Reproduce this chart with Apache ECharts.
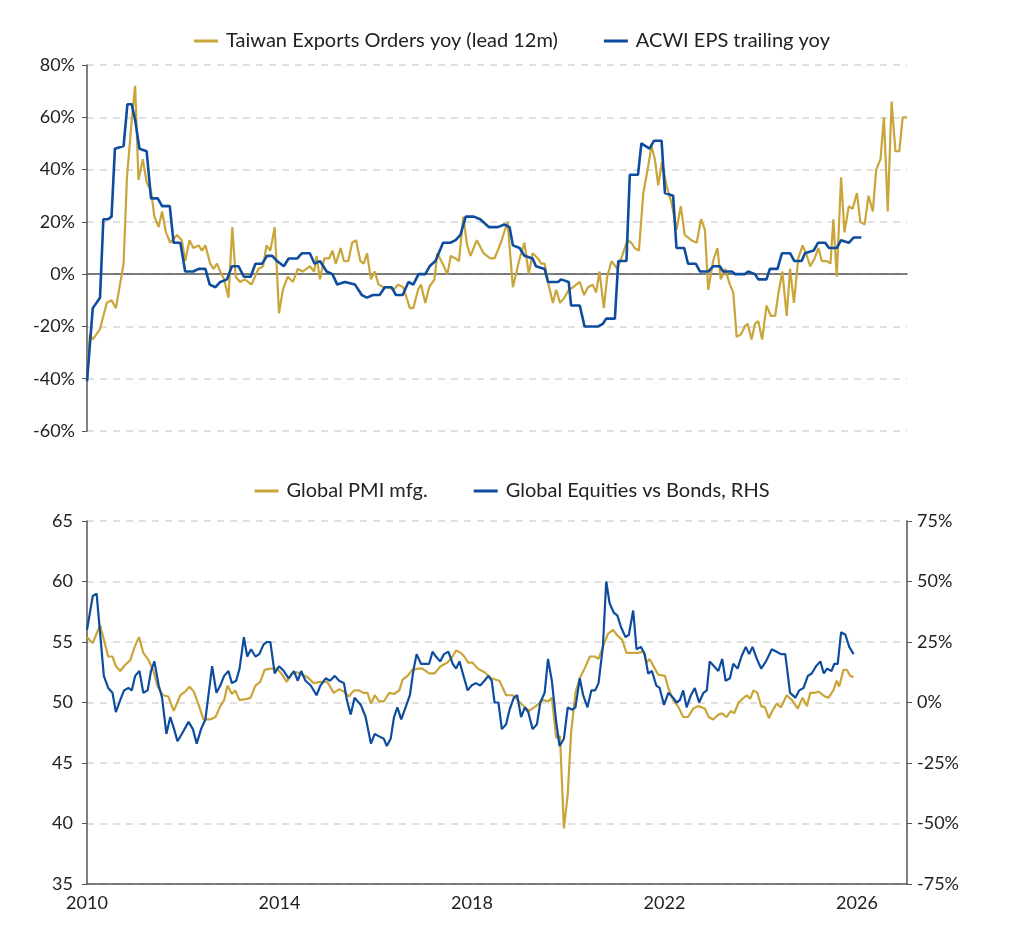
<!DOCTYPE html>
<html><head><meta charset="utf-8">
<script src="https://cdn.jsdelivr.net/npm/echarts@6/dist/echarts.min.js"></script>
<style>html,body{margin:0;padding:0;background:#fff}#c{width:1024px;height:941px}</style>
</head><body><div id="c"></div>
<script>
const taiwanOrders = [[2010.0,-41],[2010.06,-23],[2010.12,-25],[2010.27,-21],[2010.41,-11],[2010.51,-10],[2010.6,-13],[2010.76,4],[2010.83,37],[2010.93,59],[2011.0,72],[2011.07,36],[2011.16,44],[2011.24,35],[2011.33,32],[2011.4,22],[2011.49,18],[2011.56,24],[2011.64,16],[2011.73,12],[2011.87,15],[2011.97,13],[2012.04,5],[2012.13,13],[2012.21,10],[2012.32,11],[2012.39,9],[2012.46,11],[2012.56,4],[2012.63,2],[2012.7,4],[2012.77,1],[2012.85,-2],[2012.94,-9],[2013.02,18],[2013.09,-1],[2013.18,-3],[2013.28,-2],[2013.42,-4],[2013.56,2],[2013.66,3],[2013.73,11],[2013.81,9],[2013.9,18],[2013.99,-15],[2014.07,-6],[2014.17,-1],[2014.28,-3],[2014.38,2],[2014.48,1],[2014.63,3],[2014.72,1],[2014.77,7],[2014.84,-2],[2014.93,6],[2015.03,6],[2015.1,9],[2015.17,4],[2015.27,10],[2015.34,5],[2015.43,5],[2015.51,12],[2015.59,13],[2015.68,5],[2015.75,4],[2015.82,8],[2015.9,-2],[2015.98,1],[2016.06,-4],[2016.16,-5],[2016.27,-5],[2016.37,-6],[2016.47,-4],[2016.57,-5],[2016.71,-13],[2016.78,-13],[2016.88,-6],[2016.94,-4],[2017.03,-11],[2017.11,-5],[2017.22,-2],[2017.28,8],[2017.39,4],[2017.49,0],[2017.56,7],[2017.66,6],[2017.73,5],[2017.82,22],[2017.9,11],[2017.97,7],[2018.1,13],[2018.24,8],[2018.38,6],[2018.47,6],[2018.6,12],[2018.74,20],[2018.85,-5],[2018.99,6],[2019.09,12],[2019.18,0],[2019.26,8],[2019.37,6],[2019.44,4],[2019.51,4],[2019.58,-3],[2019.68,-11],[2019.75,-6],[2019.83,-11],[2019.92,-9],[2020.01,-6],[2020.1,-5],[2020.24,-3],[2020.33,-8],[2020.41,-5],[2020.51,-4],[2020.58,-7],[2020.65,1],[2020.74,-13],[2020.81,-1],[2020.9,5],[2021.02,2],[2021.12,7],[2021.23,13],[2021.31,12],[2021.38,10],[2021.47,9],[2021.56,31],[2021.65,40],[2021.73,49],[2021.8,44],[2021.87,34],[2021.95,43],[2022.04,34],[2022.15,27],[2022.25,17],[2022.34,26],[2022.42,15],[2022.56,13],[2022.67,12],[2022.76,21],[2022.84,17],[2022.91,-6],[2023.01,5],[2023.1,10],[2023.17,-2],[2023.26,2],[2023.36,-4],[2023.43,-7],[2023.5,-24],[2023.59,-23],[2023.67,-20],[2023.73,-19],[2023.81,-25],[2023.88,-19],[2023.95,-18],[2024.03,-25],[2024.12,-12],[2024.21,-16],[2024.3,-16],[2024.37,-7],[2024.45,1],[2024.54,-16],[2024.61,2],[2024.69,-11],[2024.78,6],[2024.87,11],[2024.96,7],[2025.03,3],[2025.12,6],[2025.2,10],[2025.27,5],[2025.38,5],[2025.45,4],[2025.51,21],[2025.58,-1],[2025.67,37],[2025.74,16],[2025.83,26],[2025.91,25],[2026.0,31],[2026.07,20],[2026.16,19],[2026.24,30],[2026.33,24],[2026.4,40],[2026.49,44],[2026.56,60],[2026.64,24],[2026.72,66],[2026.8,47],[2026.88,47],[2026.95,60],[2027.04,60]];
const acwiEps = [[2010.0,-41],[2010.12,-13],[2010.27,-9],[2010.34,21],[2010.44,21],[2010.51,22],[2010.58,48],[2010.76,49],[2010.84,65],[2010.93,65],[2011.0,59],[2011.09,48],[2011.24,47],[2011.33,29],[2011.47,29],[2011.56,26],[2011.72,26],[2011.8,12],[2011.94,12],[2012.04,1],[2012.21,1],[2012.32,2],[2012.46,2],[2012.55,-4],[2012.67,-5],[2012.77,-3],[2012.91,-2],[2013.01,3],[2013.15,3],[2013.26,-1],[2013.4,-1],[2013.5,4],[2013.64,4],[2013.74,7],[2013.85,7],[2013.95,5],[2014.09,3],[2014.19,6],[2014.37,6],[2014.47,8],[2014.63,8],[2014.73,4],[2014.84,5],[2014.98,1],[2015.1,0],[2015.2,-4],[2015.36,-3],[2015.57,-4],[2015.71,-8],[2015.82,-9],[2015.94,-8],[2016.08,-8],[2016.19,-5],[2016.33,-5],[2016.42,-8],[2016.56,-8],[2016.68,-3],[2016.78,-4],[2016.89,0],[2017.03,0],[2017.12,3],[2017.24,5],[2017.4,12],[2017.55,12],[2017.66,13],[2017.76,15],[2017.87,22],[2018.04,22],[2018.17,21],[2018.35,18],[2018.54,18],[2018.67,19],[2018.78,18],[2018.85,11],[2018.99,10],[2019.09,7],[2019.26,6],[2019.33,3],[2019.51,2],[2019.58,-3],[2019.79,-3],[2019.85,-2],[2020.01,-3],[2020.06,-12],[2020.24,-12],[2020.34,-20],[2020.62,-20],[2020.72,-19],[2020.79,-17],[2020.97,-17],[2021.04,5],[2021.21,5],[2021.28,38],[2021.45,38],[2021.52,50],[2021.69,48],[2021.78,51],[2021.94,51],[2022.01,31],[2022.18,30],[2022.25,10],[2022.41,10],[2022.49,4],[2022.65,4],[2022.74,1],[2022.91,1],[2023.01,3],[2023.15,3],[2023.22,1],[2023.4,1],[2023.47,0],[2023.67,0],[2023.74,1],[2023.88,0],[2023.95,-2],[2024.12,-2],[2024.19,2],[2024.35,2],[2024.44,8],[2024.61,8],[2024.7,5],[2024.85,5],[2024.92,8],[2025.1,9],[2025.19,12],[2025.34,12],[2025.42,10],[2025.58,10],[2025.67,13],[2025.83,12],[2025.93,14],[2026.09,14]];
const globalPmi = [[2010.0,55.4],[2010.12,54.9],[2010.27,56.4],[2010.35,55.2],[2010.44,53.8],[2010.53,53.8],[2010.6,53.0],[2010.69,52.6],[2010.79,53.1],[2010.9,53.5],[2010.99,54.6],[2011.08,55.4],[2011.17,54.1],[2011.28,53.5],[2011.38,52.6],[2011.47,51.3],[2011.58,50.6],[2011.69,50.5],[2011.8,49.3],[2011.94,50.6],[2012.04,50.9],[2012.13,51.3],[2012.22,50.9],[2012.32,49.8],[2012.42,48.6],[2012.56,48.6],[2012.67,48.8],[2012.77,49.7],[2012.85,50.2],[2012.92,51.4],[2013.01,50.7],[2013.08,51.0],[2013.17,50.2],[2013.33,50.3],[2013.4,50.4],[2013.5,51.4],[2013.6,51.7],[2013.69,52.7],[2013.81,52.8],[2013.95,52.8],[2014.06,52.3],[2014.15,51.7],[2014.26,52.4],[2014.37,52.5],[2014.47,52.3],[2014.58,52.1],[2014.71,51.6],[2014.85,51.7],[2014.99,51.7],[2015.13,50.8],[2015.24,51.1],[2015.34,50.9],[2015.44,50.5],[2015.55,51.0],[2015.65,51.0],[2015.74,50.8],[2015.83,50.8],[2015.9,49.9],[2015.98,50.6],[2016.07,50.1],[2016.17,50.1],[2016.28,50.8],[2016.38,50.7],[2016.49,51.0],[2016.56,51.9],[2016.66,52.2],[2016.76,52.7],[2016.87,52.8],[2016.97,52.8],[2017.11,52.4],[2017.22,52.4],[2017.35,53.0],[2017.49,53.3],[2017.58,53.7],[2017.67,54.3],[2017.77,54.1],[2017.84,53.8],[2017.92,53.3],[2018.01,53.3],[2018.12,52.8],[2018.26,52.5],[2018.4,52.0],[2018.57,51.8],[2018.71,50.6],[2018.85,50.6],[2019.02,49.9],[2019.19,49.3],[2019.33,49.7],[2019.47,50.2],[2019.59,50.1],[2019.66,50.4],[2019.75,47.1],[2019.83,47.2],[2019.91,39.6],[2019.99,42.4],[2020.06,47.5],[2020.15,50.8],[2020.24,52.0],[2020.34,52.8],[2020.45,53.8],[2020.55,53.8],[2020.63,53.6],[2020.72,54.6],[2020.83,55.7],[2020.93,56.0],[2021.03,55.5],[2021.12,55.2],[2021.21,54.1],[2021.31,54.1],[2021.45,54.1],[2021.56,54.2],[2021.63,53.3],[2021.69,53.6],[2021.8,52.8],[2021.87,52.3],[2022.01,52.2],[2022.08,51.2],[2022.18,50.2],[2022.28,49.7],[2022.39,48.8],[2022.49,48.8],[2022.6,49.5],[2022.7,49.7],[2022.84,49.5],[2022.92,48.8],[2023.01,48.6],[2023.12,49.0],[2023.2,49.1],[2023.29,48.8],[2023.38,49.3],[2023.45,49.1],[2023.54,50.0],[2023.62,50.3],[2023.71,50.6],[2023.78,50.3],[2023.85,51.0],[2023.93,50.8],[2024.01,49.7],[2024.09,49.6],[2024.17,48.7],[2024.24,49.3],[2024.33,49.9],[2024.42,49.6],[2024.54,50.6],[2024.65,50.2],[2024.77,49.5],[2024.87,50.4],[2024.96,49.7],[2025.03,50.8],[2025.12,50.8],[2025.2,50.9],[2025.33,50.5],[2025.41,50.4],[2025.51,51.0],[2025.58,51.8],[2025.63,51.3],[2025.72,52.7],[2025.79,52.7],[2025.86,52.2],[2025.93,52.1]];
const equitiesVsBonds = [[2010.0,30],[2010.12,44],[2010.2,45],[2010.35,11],[2010.44,6],[2010.53,4],[2010.6,-4],[2010.69,1],[2010.77,5],[2010.86,6],[2010.93,5],[2011.0,11],[2011.09,13],[2011.17,4],[2011.26,5],[2011.33,13],[2011.4,17],[2011.49,7],[2011.56,2],[2011.65,-13],[2011.73,-6],[2011.81,-11],[2011.88,-16],[2011.97,-13],[2012.11,-8],[2012.2,-11],[2012.28,-17],[2012.37,-11],[2012.46,-7],[2012.53,4],[2012.6,15],[2012.69,4],[2012.77,7],[2012.85,11],[2012.94,13],[2013.01,8],[2013.1,9],[2013.17,14],[2013.26,27],[2013.33,19],[2013.41,22],[2013.5,19],[2013.58,20],[2013.67,24],[2013.74,25],[2013.81,25],[2013.9,12],[2013.99,15],[2014.09,13],[2014.19,10],[2014.3,13],[2014.38,9],[2014.45,13],[2014.54,9],[2014.65,7],[2014.77,3],[2014.85,7],[2014.96,10],[2015.05,9],[2015.15,11],[2015.24,9],[2015.34,8],[2015.4,1],[2015.48,-5],[2015.56,2],[2015.69,-1],[2015.79,-6],[2015.9,-17],[2015.98,-13],[2016.07,-14],[2016.17,-15],[2016.23,-18],[2016.31,-15],[2016.38,-6],[2016.45,-2],[2016.53,-7],[2016.62,-2],[2016.71,3],[2016.78,13],[2016.85,20],[2016.94,16],[2017.04,16],[2017.11,16],[2017.18,21],[2017.25,19],[2017.34,17],[2017.42,20],[2017.51,21],[2017.6,16],[2017.67,14],[2017.74,17],[2017.81,12],[2017.91,5],[2017.99,7],[2018.08,8],[2018.17,7],[2018.26,9],[2018.34,11],[2018.41,9],[2018.47,0],[2018.55,0],[2018.62,-11],[2018.71,-9],[2018.78,-3],[2018.87,2],[2018.94,3],[2019.02,-6],[2019.1,-2],[2019.17,-4],[2019.26,-11],[2019.35,-9],[2019.42,0],[2019.51,4],[2019.58,18],[2019.66,9],[2019.75,-8],[2019.82,-18],[2019.91,-15],[2019.99,-2],[2020.08,-3],[2020.15,-2],[2020.24,10],[2020.31,3],[2020.4,-2],[2020.48,5],[2020.56,5],[2020.63,8],[2020.72,23],[2020.79,50],[2020.86,41],[2020.95,37],[2021.02,36],[2021.1,31],[2021.19,27],[2021.26,28],[2021.35,38],[2021.42,22],[2021.51,23],[2021.59,20],[2021.66,12],[2021.74,13],[2021.83,7],[2021.9,6],[2021.99,-1],[2022.08,4],[2022.18,2],[2022.25,0],[2022.32,1],[2022.39,5],[2022.46,-2],[2022.55,3],[2022.63,6],[2022.72,0],[2022.81,4],[2022.88,5],[2022.94,17],[2023.03,15],[2023.12,13],[2023.2,18],[2023.27,9],[2023.36,10],[2023.43,16],[2023.52,14],[2023.6,19],[2023.69,23],[2023.76,20],[2023.83,23],[2023.92,18],[2024.01,14],[2024.11,17],[2024.23,22],[2024.33,21],[2024.42,20],[2024.51,20],[2024.61,4],[2024.72,2],[2024.8,5],[2024.89,6],[2024.98,11],[2025.06,12],[2025.15,15],[2025.24,17],[2025.31,12],[2025.38,14],[2025.47,13],[2025.53,16],[2025.6,16],[2025.67,29],[2025.76,28],[2025.84,23],[2025.93,20]];
const xTicks = [2010, 2014, 2018, 2022, 2026];

const GOLD = '#C9A53A', BLUE = '#0E4D9E', FONT = 'Lato, "Noto Sans", sans-serif';
const txt = {color:'#222', fontFamily:FONT, fontSize:18};
const axisLine = {show:true, lineStyle:{color:'#555', width:1.5}};
const split = {show:true, lineStyle:{color:'#d6d6d6', type:[7,6], width:1.5}};
const chart = echarts.init(document.getElementById('c'));
chart.setOption({
  animation:false,
  legend:[
    {top:26, left:'center', icon:'path://M0,0H24V3H0Z', itemWidth:30, itemHeight:3, itemGap:46, textStyle:{...txt, fontSize:20}, data:['Taiwan Exports Orders yoy (lead 12m)','ACWI EPS trailing yoy']},
    {top:476, left:'center', icon:'path://M0,0H24V3H0Z', itemWidth:30, itemHeight:3, itemGap:46, textStyle:{...txt, fontSize:20}, data:['Global PMI mfg.','Global Equities vs Bonds, RHS']}
  ],
  grid:[
    {left:87, right:117, top:65, height:366},
    {left:87, right:117, top:521, height:363}
  ],
  xAxis:[
    {type:'value', gridIndex:0, min:2010, max:2027.04, interval:4, axisLine:{...axisLine, onZero:true}, axisTick:{show:false}, axisLabel:{show:false}, splitLine:{show:false}},
    {type:'value', gridIndex:1, min:2010, max:2027.04, interval:4, axisLine:{...axisLine, onZero:false}, axisTick:{show:false}, axisLabel:{...txt, margin:10, customValues:xTicks, formatter:v=>String(v)}, splitLine:{show:false}}
  ],
  yAxis:[
    {type:'value', gridIndex:0, min:-60, max:80, interval:20, axisLine:{...axisLine, onZero:false}, axisTick:{show:true, length:5, lineStyle:{color:'#555'}}, axisLabel:{...txt, formatter:'{value}%', margin:12}, splitLine:split},
    {type:'value', gridIndex:1, min:35, max:65, interval:5, axisLine:{...axisLine, onZero:false}, axisTick:{show:true, length:5, lineStyle:{color:'#555'}}, axisLabel:{...txt, margin:14}, splitLine:split},
    {type:'value', gridIndex:1, position:'right', min:-75, max:75, interval:25, axisLine:{...axisLine, onZero:false}, axisTick:{show:true, length:5, lineStyle:{color:'#555'}}, axisLabel:{...txt, formatter:'{value}%', margin:10}, splitLine:{show:false}}
  ],
  series:[
    {name:'Taiwan Exports Orders yoy (lead 12m)', type:'line', xAxisIndex:0, yAxisIndex:0, data:taiwanOrders, showSymbol:false, lineStyle:{color:GOLD, width:2.2}, itemStyle:{color:GOLD}},
    {name:'ACWI EPS trailing yoy', type:'line', xAxisIndex:0, yAxisIndex:0, data:acwiEps, showSymbol:false, lineStyle:{color:BLUE, width:2.6}, itemStyle:{color:BLUE}},
    {name:'Global PMI mfg.', type:'line', xAxisIndex:1, yAxisIndex:1, data:globalPmi, showSymbol:false, lineStyle:{color:GOLD, width:2.2}, itemStyle:{color:GOLD}},
    {name:'Global Equities vs Bonds, RHS', type:'line', xAxisIndex:1, yAxisIndex:2, data:equitiesVsBonds, showSymbol:false, lineStyle:{color:BLUE, width:2.2}, itemStyle:{color:BLUE}}
  ]
});
</script></body></html>
